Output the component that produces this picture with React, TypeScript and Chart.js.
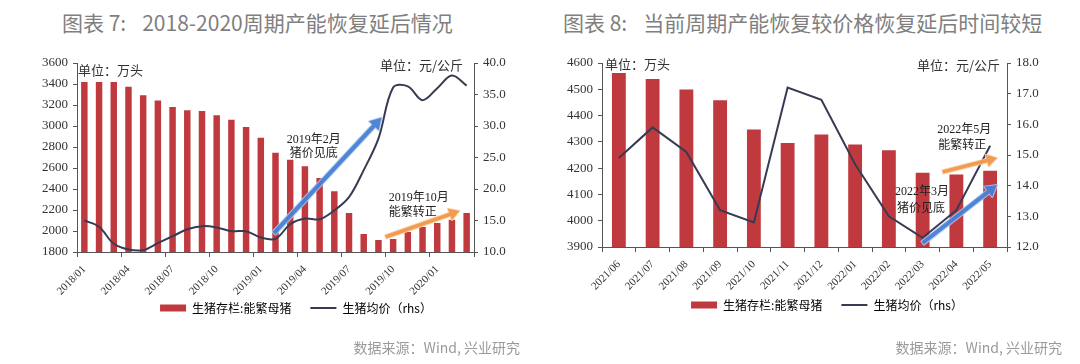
import React, { useEffect, useRef } from 'react';
import { Chart, registerables } from 'chart.js';

Chart.register(...registerables);

// ---------- Data: chart 7 (2018-2020) ----------
const leftCategories = [
  '2018/01', '2018/02', '2018/03', '2018/04', '2018/05', '2018/06', '2018/07', '2018/08', '2018/09',
  '2018/10', '2018/11', '2018/12', '2019/01', '2019/02', '2019/03', '2019/04', '2019/05', '2019/06',
  '2019/07', '2019/08', '2019/09', '2019/10', '2019/11', '2019/12', '2020/01', '2020/02', '2020/03',
];
const leftSows = [
  3420, 3420, 3420, 3375, 3292, 3244, 3181, 3149, 3143, 3102, 3060, 2990, 2889, 2746,
  2679, 2616, 2505, 2378, 2171, 1971, 1914, 1924, 1990, 2038, 2076, 2108, 2171,
];
const leftPrice = [
  15.0, 14.0, 11.3, 10.4, 10.3, 11.4, 12.5, 13.6, 14.1, 13.9, 13.3, 13.3, 12.3, 12.1,
  14.4, 15.3, 15.2, 16.6, 18.7, 23.0, 28.0, 36.1, 36.3, 34.1, 36.0, 38.0, 36.4,
];
const leftBlueArrow = [[12.9, 13.0], [20.2, 31.3]];
const leftOrangeArrow = [[20.5, 12.4], [25.5, 16.5]];
const leftNoteTexts = ['2019年2月', '猪价见底', '2019年10月', '能繁转正'];
const leftNoteX = [15.6, 15.6, 20.7, 20.7];
const leftNoteY = [27.8, 25.6, 18.6, 16.2];
const leftNoteAlign = ['center', 'center', 'left', 'left'];

// ---------- Data: chart 8 (2021-2022) ----------
const rightCategories = [
  '2021/06', '2021/07', '2021/08', '2021/09', '2021/10', '2021/11',
  '2021/12', '2022/01', '2022/02', '2022/03', '2022/04', '2022/05',
];
const rightSows = [4562, 4539, 4499, 4458, 4347, 4296, 4328, 4290, 4268, 4182, 4176, 4190];
const rightPrice = [14.9, 15.9, 15.1, 13.2, 12.8, 17.2, 16.8, 14.7, 13.0, 12.3, 13.2, 15.3];
const rightBlueArrow = [[9.0, 12.13], [11.2, 14.02]];
const rightOrangeArrow = [[9.6, 14.45], [11.2, 14.9]];
const rightNoteTexts = ['2022年5月', '能繁转正', '2022年3月', '猪价见底'];
const rightNoteX = [9.43, 9.46, 8.18, 8.24];
const rightNoteY = [15.81, 15.29, 13.79, 13.24];
const rightNoteAlign = ['left', 'left', 'left', 'left'];

const BAR = '#c0393f';
const LINE = '#373b52';
const AXIS = '#555555';
const SERIF = "'Liberation Serif', 'Times New Roman', serif";
const CJK = "'Noto Sans CJK SC', 'Noto Sans', sans-serif";
const MIX = "'Liberation Serif', 'Noto Sans CJK SC', serif";

function drawArrow(ctx: CanvasRenderingContext2D, x1: number, y1: number, x2: number, y2: number,
  color: string, glow: string, width: number, head: number) {
  const ang = Math.atan2(y2 - y1, x2 - x1);
  const hx = x2 - head * Math.cos(ang);
  const hy = y2 - head * Math.sin(ang);
  const px = Math.cos(ang + Math.PI / 2);
  const py = Math.sin(ang + Math.PI / 2);
  const hw = head * 0.6;
  ctx.save();
  ctx.beginPath();
  ctx.moveTo(x1 + px * width / 2, y1 + py * width / 2);
  ctx.lineTo(hx + px * width / 2, hy + py * width / 2);
  ctx.lineTo(hx + px * hw, hy + py * hw);
  ctx.lineTo(x2, y2);
  ctx.lineTo(hx - px * hw, hy - py * hw);
  ctx.lineTo(hx - px * width / 2, hy - py * width / 2);
  ctx.lineTo(x1 - px * width / 2, y1 - py * width / 2);
  ctx.closePath();
  ctx.lineJoin = 'round';
  ctx.strokeStyle = glow;
  ctx.lineWidth = 2;
  ctx.stroke();
  ctx.fillStyle = color;
  ctx.fill();
  ctx.restore();
}

const annoPlugin = {
  id: 'anno',
  afterLayout(chart: any, _args: any, opts: any) {
    const lg = chart.legend;
    if (lg) {
      lg.left += opts.legendDx;
      lg.right += opts.legendDx;
      lg.top += opts.legendDy;
      lg.bottom += opts.legendDy;
    }
  },
  afterDatasetsDraw(chart: any, _args: any, opts: any) {
    const { ctx, chartArea, scales } = chart;
    const xs = scales.x;
    const ys = scales.y1;
    ctx.save();
    ctx.font = `13px ${CJK}`;
    ctx.fillStyle = '#333333';
    ctx.textBaseline = 'middle';
    ctx.textAlign = 'left';
    ctx.fillText('单位：万头', chartArea.left + opts.unitL[0], chartArea.top + opts.unitL[1]);
    ctx.textAlign = 'right';
    ctx.fillText('单位：元/公斤', chartArea.right - opts.unitR[0], chartArea.top + opts.unitR[1]);

    const arrows = [
      { pts: opts.blue, color: 'rgba(72,128,212,0.95)', glow: 'rgba(170,200,240,0.9)', w: 4, h: 11 },
      { pts: opts.orange, color: 'rgba(242,150,72,0.95)', glow: 'rgba(250,205,160,0.9)', w: 3.5, h: 10 },
    ];
    for (const a of arrows) {
      drawArrow(ctx,
        xs.getPixelForValue(a.pts[0][0]), ys.getPixelForValue(a.pts[0][1]),
        xs.getPixelForValue(a.pts[1][0]), ys.getPixelForValue(a.pts[1][1]),
        a.color, a.glow, a.w, a.h);
    }

    ctx.font = `12px ${MIX}`;
    ctx.fillStyle = '#222222';
    ctx.textBaseline = 'middle';
    opts.texts.forEach((t: string, i: number) => {
      ctx.textAlign = opts.align[i];
      ctx.fillText(t, xs.getPixelForValue(opts.nx[i]), ys.getPixelForValue(opts.ny[i]));
    });
    ctx.restore();
  },
};

type ComboProps = {
  categories: string[];
  sows: number[];
  price: number[];
  every: number;
  yMin: number; yMax: number; yStep: number;
  y1Min: number; y1Max: number; y1Step: number;
  pad: { top: number; left: number; right: number; bottom: number };
  yWidth: number; y1Width: number; xHeight: number;
  barPct: number; tension: number;
  anno: any;
};

function ComboChart(p: ComboProps) {
  const ref = useRef<HTMLCanvasElement | null>(null);
  useEffect(() => {
    if (!ref.current) return;
    const chart = new Chart(ref.current, {
      type: 'bar',
      data: {
        labels: p.categories,
        datasets: [
          {
            type: 'bar',
            label: '生猪存栏:能繁母猪',
            data: p.sows,
            backgroundColor: BAR,
            yAxisID: 'y',
            barPercentage: p.barPct,
            categoryPercentage: 1,
            order: 1,
          } as any,
          {
            type: 'line',
            label: '生猪均价（rhs）',
            data: p.price,
            borderColor: LINE,
            backgroundColor: LINE,
            borderWidth: 2,
            pointRadius: 0,
            tension: p.tension,
            yAxisID: 'y1',
            order: 0,
          } as any,
        ],
      },
      options: {
        responsive: false,
        animation: false,
        layout: { padding: p.pad },
        scales: {
          x: {
            offset: true,
            ticks: {
              autoSkip: false,
              minRotation: 45,
              maxRotation: 45,
              padding: 6,
              color: '#333333',
              font: { family: SERIF, size: 11 },
              callback: (_v: any, i: number) => (i % p.every === 0 ? p.categories[i] : ''),
            },
            grid: {
              drawOnChartArea: false,
              offset: true,
              tickLength: 5,
              color: (c: any) => (c.index === undefined || c.index % p.every === 0 ? AXIS : 'rgba(0,0,0,0)'),
            },
            border: { color: AXIS },
            afterFit: (s: any) => { s.height = p.xHeight; },
          },
          y: {
            position: 'left',
            min: p.yMin,
            max: p.yMax,
            ticks: {
              stepSize: p.yStep, padding: 5, color: '#333333', font: { family: SERIF, size: 13 },
              callback: (v: any) => String(Math.round(Number(v))),
            },
            grid: { drawOnChartArea: false, tickLength: 4, color: AXIS },
            border: { color: AXIS },
            afterFit: (s: any) => { s.width = p.yWidth; },
          },
          y1: {
            position: 'right',
            min: p.y1Min,
            max: p.y1Max,
            ticks: {
              stepSize: p.y1Step, padding: 5, color: '#333333', font: { family: SERIF, size: 13 },
              callback: (v: any) => Number(v).toFixed(1),
            },
            grid: { drawOnChartArea: false, tickLength: 4, color: AXIS },
            border: { color: AXIS },
            afterFit: (s: any) => { s.width = p.y1Width; },
          },
        },
        plugins: {
          tooltip: { enabled: false },
          legend: {
            position: 'bottom',
            labels: {
              usePointStyle: true,
              pointStyleWidth: 26,
              boxHeight: 7,
              padding: 19,
              color: '#333333',
              font: { family: CJK, size: 12 },
              generateLabels: () => [
                { text: '生猪存栏:能繁母猪', fillStyle: BAR, strokeStyle: BAR, lineWidth: 0, pointStyle: 'rect', datasetIndex: 0, hidden: false },
                { text: '生猪均价（rhs）', fillStyle: LINE, strokeStyle: LINE, lineWidth: 2, pointStyle: 'line', datasetIndex: 1, hidden: false },
              ],
            },
          },
          anno: p.anno,
        } as any,
      },
      plugins: [annoPlugin as any],
    });
    return () => chart.destroy();
  }, []);
  return <canvas ref={ref} width={540} height={305} style={{ display: 'block' }} />;
}

const titleStyle: React.CSSProperties = {
  position: 'absolute', top: 10, fontFamily: CJK, fontSize: 21, lineHeight: '24px',
  color: '#7f7f7f', whiteSpace: 'pre',
};
const sourceStyle: React.CSSProperties = {
  position: 'absolute', top: 338, width: 300, textAlign: 'right', fontFamily: CJK,
  fontSize: 14, lineHeight: '18px', color: '#9a9a9a', whiteSpace: 'pre',
};

export default function App() {
  return (
    <div style={{ position: 'fixed', left: 0, top: 0, width: 1080, height: 364, background: '#ffffff', overflow: 'hidden' }}>
      <div style={{ ...titleStyle, left: 62 }}>
        <span>图表 7:</span>
        <span style={{ marginLeft: 16 }}>2018-2020周期产能恢复延后情况</span>
      </div>
      <div style={{ ...titleStyle, left: 563 }}>
        <span>图表 8:</span>
        <span style={{ marginLeft: 16 }}>当前周期产能恢复较价格恢复延后时间较短</span>
      </div>
      <div style={{ position: 'absolute', left: 0, top: 40, width: 540, height: 305 }}>
        <ComboChart
          categories={leftCategories} sows={leftSows} price={leftPrice} every={3}
          yMin={1800} yMax={3600} yStep={200} y1Min={10} y1Max={40} y1Step={5}
          pad={{ top: 23, left: 0, right: 0, bottom: 4 }}
          yWidth={77} y1Width={66} xHeight={48} barPct={0.44} tension={0.35}
          anno={{
            legendDx: 26, legendDy: -17,
            unitL: [1, 7], unitR: [11, 2],
            blue: leftBlueArrow, orange: leftOrangeArrow,
            texts: leftNoteTexts, nx: leftNoteX, ny: leftNoteY, align: leftNoteAlign,
          }}
        />
      </div>
      <div style={{ position: 'absolute', left: 540, top: 40, width: 540, height: 305 }}>
        <ComboChart
          categories={rightCategories} sows={rightSows} price={rightPrice} every={1}
          yMin={3900} yMax={4600} yStep={100} y1Min={12} y1Max={18} y1Step={1}
          pad={{ top: 23, left: 0, right: 0, bottom: 7 }}
          yWidth={62} y1Width={73} xHeight={50} barPct={0.41} tension={0}
          anno={{
            legendDx: 17, legendDy: -17,
            unitL: [3, 1], unitR: [7, 2],
            blue: rightBlueArrow, orange: rightOrangeArrow,
            texts: rightNoteTexts, nx: rightNoteX, ny: rightNoteY, align: rightNoteAlign,
          }}
        />
      </div>
      <div style={{ ...sourceStyle, left: 220 }}>数据来源：Wind, 兴业研究</div>
      <div style={{ ...sourceStyle, left: 762 }}>数据来源：Wind, 兴业研究</div>
    </div>
  );
}
